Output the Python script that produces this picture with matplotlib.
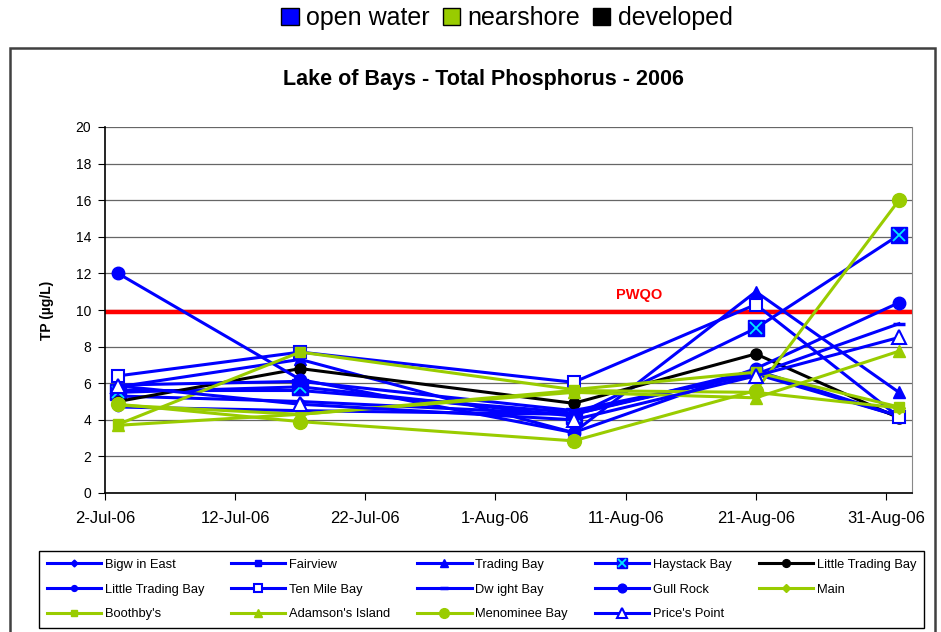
import datetime as dt
import matplotlib.pyplot as plt
import matplotlib.dates as mdates
from matplotlib.patches import Patch, Rectangle

plt.rcParams['font.family'] = ['Liberation Sans', 'DejaVu Sans']

# sampling dates
dates = [dt.date(2006, 7, 3), dt.date(2006, 7, 17), dt.date(2006, 8, 7),
         dt.date(2006, 8, 21), dt.date(2006, 9, 1)]

# TP values (ug/L) per station
bigwin_east = [5.3, 5.0, 4.3, 6.6, 4.2]
fairview = [5.6, 5.6, 4.4, 6.5, 4.2]
trading_bay = [5.8, 7.3, 3.3, 11.0, 5.5]
haystack_bay = [5.5, 5.8, 4.2, 9.0, 14.1]
little_trading_dev = [5.0, 6.8, 4.9, 7.6, 4.1]
little_trading_ow = [4.7, 4.5, 4.3, 6.7, 4.2]
ten_mile_bay = [6.4, 7.7, 6.05, 10.3, 4.15]
dwight_bay = [5.9, 6.1, 4.5, 6.5, 9.25]
gull_rock = [12.0, 6.2, 3.3, 6.8, 10.4]
main_st = [4.8, 4.3, 5.6, 5.5, 4.65]
boothbys = [3.75, 7.7, 5.65, 6.6, 4.7]
adamsons = [3.7, 4.3, 5.5, 5.2, 7.75]
menominee = [4.85, 3.9, 2.85, 5.6, 16.0]
prices_point = [5.85, 4.85, 4.0, 6.4, 8.5]

pwqo = 9.9

blue = '#0000FF'
green = '#99CC00'

fig = plt.figure(figsize=(9.41, 6.32), dpi=100)
ax = fig.add_axes([105/941, 1-493/632, (912-105)/941, (493-127)/632])

lw = 2.2
h = {}
h['bigwin'], = ax.plot(dates, bigwin_east, color=blue, lw=lw, marker='D', ms=5)
h['fairview'], = ax.plot(dates, fairview, color=blue, lw=lw, marker='s', ms=6)
h['trading'], = ax.plot(dates, trading_bay, color=blue, lw=lw, marker='^', ms=9)
hs1, = ax.plot(dates, haystack_bay, color=blue, lw=lw, marker='s', ms=11)
hs2, = ax.plot(dates, haystack_bay, ls='none', marker='x', ms=8, mew=1.3, color='#00E5FF')
h['haystack'] = (hs1, hs2)
h['ltb_dev'], = ax.plot(dates, little_trading_dev, color='black', lw=lw, marker='o', ms=8)
h['ltb_ow'], = ax.plot(dates, little_trading_ow, color=blue, lw=lw, marker='o', ms=6)
h['tenmile'], = ax.plot(dates, ten_mile_bay, color=blue, lw=lw, marker='s', ms=9,
                        mfc='white', mec=blue, mew=1.5)
h['dwight'], = ax.plot(dates, dwight_bay, color=blue, lw=lw, marker='_', ms=9, mew=2.5)
h['gull'], = ax.plot(dates, gull_rock, color=blue, lw=lw, marker='o', ms=9)
h['main'], = ax.plot(dates, main_st, color=green, lw=lw, marker='D', ms=6)
h['boothby'], = ax.plot(dates, boothbys, color=green, lw=lw, marker='s', ms=7)
h['adamson'], = ax.plot(dates, adamsons, color=green, lw=lw, marker='^', ms=8)
h['menominee'], = ax.plot(dates, menominee, color=green, lw=lw, marker='o', ms=10)
h['prices'], = ax.plot(dates, prices_point, color=blue, lw=lw, marker='^', ms=10,
                       mfc='white', mec=blue, mew=1.5)

ax.axhline(pwqo, color='#FF0000', lw=3.2, zorder=1.5)
ax.text(dt.date(2006, 8, 12), 10.8, 'PWQO', color='#FF0000', fontsize=10.5,
        fontweight='bold', ha='center', va='center')

ax.set_xlim(dt.date(2006, 7, 2), dt.date(2006, 9, 2))
ax.set_ylim(0, 20)
ax.set_yticks(range(0, 21, 2))
ax.set_xticks([dt.date(2006, 7, 2) + dt.timedelta(days=10*i) for i in range(7)])
ax.xaxis.set_major_formatter(mdates.DateFormatter('%-d-%b-%y'))
ax.tick_params(axis='x', labelsize=12, length=5, direction='out', pad=8)
ax.tick_params(axis='y', labelsize=10, length=5, direction='out', pad=5)
ax.grid(axis='y', color='#666666', lw=0.9)
ax.set_axisbelow(True)
ax.spines['right'].set_color('#888888')
ax.spines['top'].set_visible(False)
ax.spines['left'].set_linewidth(1.2)
ax.spines['bottom'].set_linewidth(1.2)

fig.text(483/941, 1-80/632, 'Lake of Bays - Total Phosphorus - 2006',
         ha='center', va='center', fontsize=15.5, fontweight='bold')
fig.text(47/941, 1-310/632, 'TP (µg/L)', rotation=90, ha='center', va='center',
         fontsize=10, fontweight='bold')

# chart border
fig.patches.append(Rectangle((10/941, -0.05), 925/941, 0.05 + 1 - 48/632,
                             transform=fig.transFigure, fill=False,
                             ec='#404040', lw=1.8))

# group legend on top
groups = [Patch(fc=blue, ec='black', lw=1), Patch(fc=green, ec='black', lw=1),
          Patch(fc='black', ec='black', lw=1)]
fig.legend(groups, ['open water', 'nearshore', 'developed'], loc='center',
           bbox_to_anchor=(507/941, 1-18/632), ncol=3, frameon=False,
           fontsize=18, handlelength=0.7, handleheight=0.7,
           handletextpad=0.3, columnspacing=0.5)

# station legend (column-major order to match the row layout)
order = ['bigwin', 'ltb_ow', 'boothby',
         'fairview', 'tenmile', 'adamson',
         'trading', 'dwight', 'menominee',
         'haystack', 'gull', 'prices',
         'ltb_dev', 'main']
names = {'bigwin': 'Bigw in East', 'fairview': 'Fairview', 'trading': 'Trading Bay',
         'haystack': 'Haystack Bay', 'ltb_dev': 'Little Trading Bay',
         'ltb_ow': 'Little Trading Bay', 'tenmile': 'Ten Mile Bay',
         'dwight': 'Dw ight Bay', 'gull': 'Gull Rock', 'main': 'Main',
         'boothby': "Boothby's", 'adamson': "Adamson's Island",
         'menominee': 'Menominee Bay', 'prices': "Price's Point"}
leg = fig.legend([h[k] for k in order], [names[k] for k in order], loc='center',
                 bbox_to_anchor=(33/941, 1-631/632, 897/941, 83/632),
                 mode='expand', ncol=5, fontsize=9.3, handlelength=4.2,
                 handletextpad=0.3, labelspacing=1.0, borderpad=0.55,
                 fancybox=False, edgecolor='black', framealpha=1,
                 markerscale=0.7)
leg.get_frame().set_linewidth(1.0)

fig.savefig('out.png', dpi=100)
